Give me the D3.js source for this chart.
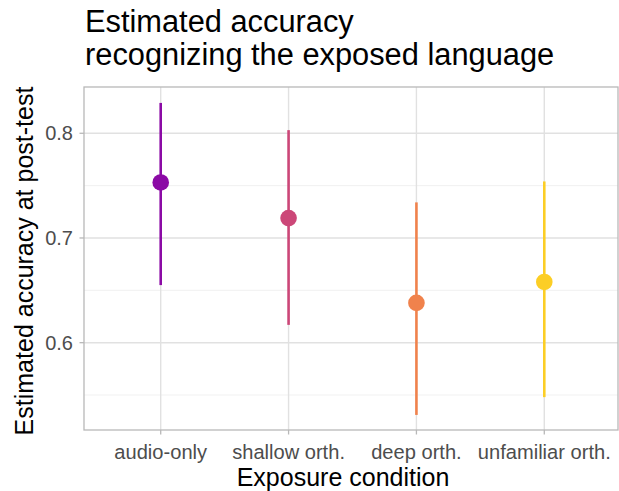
<!DOCTYPE html>
<html>
<head>
<meta charset="utf-8">
<script src="https://cdn.jsdelivr.net/npm/d3@7"></script>
<style>
  body { margin: 0; background: #fff; }
  text { font-family: "Liberation Sans", Arial, sans-serif; }
</style>
</head>
<body>
<div id="chart"></div>
<script>
// data
var conditions = ["audio-only", "shallow orth.", "deep orth.", "unfamiliar orth."];
var estimate = [0.753, 0.719, 0.638, 0.658];
var lower = [0.655, 0.617, 0.531, 0.548];
var upper = [0.829, 0.803, 0.734, 0.754];
var colors = ["#8B0AA5", "#CC4778", "#F0824C", "#FCCE25"];
var yTicks = [0.6, 0.7, 0.8];
var yMinor = [0.55, 0.65, 0.75];

var W = 619, H = 491;
var pLeft = 84, pRight = 618, pTop = 87, pBottom = 430;

var svg = d3.select("#chart").append("svg")
    .attr("width", W).attr("height", H);

var x = d3.scalePoint().domain(conditions).range([pLeft, 621]).padding(0.6);
var y = d3.scaleLinear().domain([0.5166, 0.8442]).range([pBottom, pTop]);

// grid
svg.selectAll(".minor").data(yMinor).enter().append("line")
   .attr("x1", pLeft).attr("x2", pRight)
   .attr("y1", function(d) { return y(d); })
   .attr("y2", function(d) { return y(d); })
   .style("stroke", "#EEEEEE").style("stroke-width", 0.9);

svg.selectAll(".major").data(yTicks).enter().append("line")
   .attr("x1", pLeft).attr("x2", pRight)
   .attr("y1", function(d) { return y(d); })
   .attr("y2", function(d) { return y(d); })
   .style("stroke", "#E1E1E1").style("stroke-width", 1.4);

svg.selectAll(".vgrid").data(conditions).enter().append("line")
   .attr("x1", function(d) { return x(d); })
   .attr("x2", function(d) { return x(d); })
   .attr("y1", pTop).attr("y2", pBottom)
   .style("stroke", "#E1E1E1").style("stroke-width", 1.4);

// panel border
svg.append("rect")
   .attr("x", pLeft).attr("y", pTop)
   .attr("width", pRight - pLeft).attr("height", pBottom - pTop)
   .attr("fill", "none").style("stroke", "#B8B8B8").style("stroke-width", 1.3);

// error bars and points
svg.selectAll(".bar").data(conditions).enter().append("line")
   .attr("x1", function(d) { return x(d); })
   .attr("x2", function(d) { return x(d); })
   .attr("y1", function(d, i) { return y(lower[i]); })
   .attr("y2", function(d, i) { return y(upper[i]); })
   .style("stroke", function(d, i) { return colors[i]; })
   .style("stroke-width", 2.6);

svg.selectAll(".pt").data(conditions).enter().append("circle")
   .attr("cx", function(d) { return x(d); })
   .attr("cy", function(d, i) { return y(estimate[i]); })
   .attr("r", 8.3)
   .attr("fill", function(d, i) { return colors[i]; });

// axes
svg.selectAll(".ytick").data(yTicks).enter().append("line")
   .attr("x1", pLeft - 4.5).attr("x2", pLeft)
   .attr("y1", function(d) { return y(d); })
   .attr("y2", function(d) { return y(d); })
   .style("stroke", "#B8B8B8").style("stroke-width", 1.3);

svg.selectAll(".ylab").data(yTicks).enter().append("text")
   .attr("x", pLeft - 11)
   .attr("y", function(d) { return y(d) + 7; })
   .attr("text-anchor", "end")
   .style("font-size", "20px").style("fill", "#4D4D4D")
   .text(function(d) { return d3.format(".1f")(d); });

svg.selectAll(".xtick").data(conditions).enter().append("line")
   .attr("x1", function(d) { return x(d); })
   .attr("x2", function(d) { return x(d); })
   .attr("y1", pBottom).attr("y2", pBottom + 4.5)
   .style("stroke", "#B8B8B8").style("stroke-width", 1.3);

svg.selectAll(".xlab").data(conditions).enter().append("text")
   .attr("x", function(d) { return x(d); })
   .attr("y", 459)
   .attr("text-anchor", "middle")
   .style("font-size", "20.1px").style("fill", "#4D4D4D")
   .text(function(d) { return d; });

// titles
svg.append("text")
   .attr("x", 343).attr("y", 486)
   .attr("text-anchor", "middle")
   .style("font-size", "25px").style("fill", "#000")
   .text("Exposure condition");

svg.append("text")
   .attr("transform", "translate(33,261) rotate(-90)")
   .attr("text-anchor", "middle")
   .style("font-size", "25px").style("fill", "#000")
   .text("Estimated accuracy at post-test");

var title = svg.append("text")
   .attr("transform", "translate(" + (pLeft + 1) + ",32)")
   .style("font-size", "30.8px").style("fill", "#000");
title.append("tspan").attr("x", 0).attr("y", 0).text("Estimated accuracy");
title.append("tspan").attr("x", 0).attr("y", 33).text("recognizing the exposed language");
</script>
</body>
</html>
